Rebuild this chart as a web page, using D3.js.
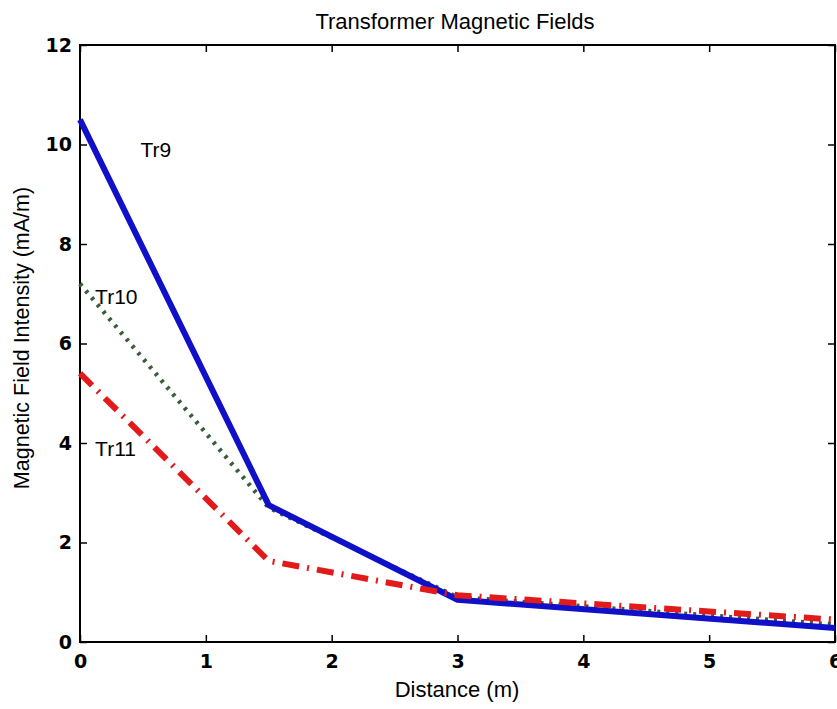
<!DOCTYPE html>
<html>
  <head>
    <meta charset="utf-8">
    <script src="https://d3js.org/d3.v7.min.js"></script>
    <title>Transformer Magnetic Fields</title>
    <style>
      body { margin: 0; background: #fff; }
      .tick text { font-family: "DejaVu Sans", sans-serif; font-weight: bold; font-size: 19px; fill: #000; }
    </style>
  </head>
  <body>
    <div id="plot"></div>
    <script>

    // data
    const distance = [0, 1.5, 3, 6];
    const tr9 = [10.5, 2.75, 0.85, 0.28];
    const tr10 = [7.2, 2.7, 0.9, 0.35];
    const tr11 = [5.4, 1.63, 0.94, 0.45];
    const xTicks = [0, 1, 2, 3, 4, 5, 6];
    const yTicks = [0, 2, 4, 6, 8, 10, 12];

    const W = 837, H = 709;
    const margin = {top: 45, right: 2, bottom: 67, left: 80};
    const width = W - margin.left - margin.right,
        height = H - margin.top - margin.bottom;
    const font = "'Liberation Sans', Arial, sans-serif";

    const svg = d3.select("#plot")
      .append("svg")
        .attr("width", W)
        .attr("height", H);
    const g = svg.append("g")
        .attr("transform", "translate(" + margin.left + "," + margin.top + ")");

    const x = d3.scaleLinear().domain([0, 6]).range([0, width]);
    const y = d3.scaleLinear().domain([0, 12]).range([height, 0]);

    // bottom / left axes with labels, ticks pointing in
    g.append("g")
      .attr("transform", "translate(0," + height + ")")
      .call(d3.axisBottom(x).tickValues(xTicks).tickSize(-7).tickPadding(13).tickFormat(d3.format("d")))
      .call(a => a.select(".domain").remove());
    g.append("g")
      .call(d3.axisLeft(y).tickValues(yTicks).tickSize(-7).tickPadding(8).tickFormat(d3.format("d")))
      .call(a => a.select(".domain").remove());
    // top / right ticks, no labels
    g.append("g")
      .call(d3.axisTop(x).tickValues(xTicks).tickSize(-7).tickFormat(""))
      .call(a => a.select(".domain").remove());
    g.append("g")
      .attr("transform", "translate(" + width + ",0)")
      .call(d3.axisRight(y).tickValues(yTicks).tickSize(-7).tickFormat(""))
      .call(a => a.select(".domain").remove());
    g.selectAll(".tick line").attr("stroke", "#000").attr("stroke-width", 1.5);

    // box
    g.append("rect")
      .attr("width", width).attr("height", height)
      .attr("fill", "none").attr("stroke", "#000").attr("stroke-width", 2);

    const line = ys => d3.line()
      .x((d, i) => x(distance[i]))
      .y(d => y(d))(ys);

    // Tr10 dotted
    g.append("path")
      .attr("d", line(tr10))
      .attr("fill", "none")
      .attr("stroke", "#3a5e3a")
      .attr("stroke-width", 4.5)
      .attr("stroke-dasharray", "3,6");
    // Tr9 solid
    g.append("path")
      .attr("d", line(tr9))
      .attr("fill", "none")
      .attr("stroke", "#1010c8")
      .attr("stroke-width", 6)
      .attr("stroke-linejoin", "round");
    // Tr11 dash-dot
    g.append("path")
      .attr("d", line(tr11))
      .attr("fill", "none")
      .attr("stroke", "#e31a1a")
      .attr("stroke-width", 6)
      .attr("stroke-dasharray", "17,8,2,8");

    // line labels
    const lab = [["Tr9", 0.48, 9.75], ["Tr10", 0.12, 6.8], ["Tr11", 0.12, 3.74]];
    g.selectAll(".lab")
      .data(lab)
      .enter()
      .append("text")
        .attr("x", d => x(d[1]))
        .attr("y", d => y(d[2]))
        .text(d => d[0])
        .style("font-family", font)
        .style("font-size", "21px");

    // title
    svg.append("text")
      .text("Transformer Magnetic Fields")
      .attr("x", 455)
      .attr("y", 29)
      .attr("text-anchor", "middle")
      .style("font-family", font)
      .style("font-size", "22px");

    // x label
    svg.append("text")
      .text("Distance (m)")
      .attr("x", 457)
      .attr("y", 697)
      .attr("text-anchor", "middle")
      .style("font-family", font)
      .style("font-size", "22px");

    // y label
    svg.append("text")
      .text("Magnetic Field Intensity (mA/m)")
      .attr("transform", "translate(29,338) rotate(-90)")
      .attr("text-anchor", "middle")
      .style("font-family", font)
      .style("font-size", "21.5px");

    </script>
  </body>
</html>
